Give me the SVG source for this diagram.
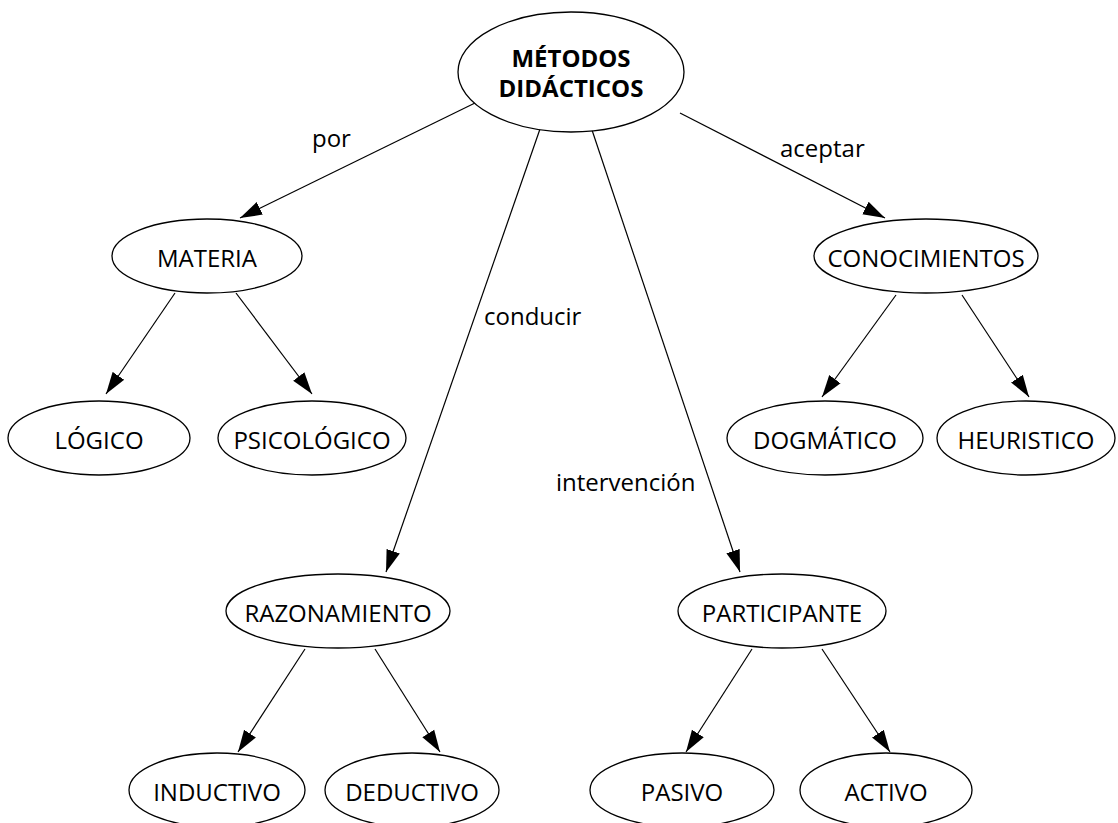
<svg xmlns="http://www.w3.org/2000/svg" width="1118" height="823" viewBox="0 0 1118 823">
<defs>
<marker id="arr" markerUnits="userSpaceOnUse" markerWidth="22" markerHeight="16" viewBox="0 0 22 16" refX="22" refY="8" orient="auto">
<path d="M0,1 L22,8 L0,15 Z" fill="#000"/>
</marker>
<style>
.n{fill:#fff;stroke:#000;stroke-width:1.3}
.t{font-family:"Open Sans","Noto Sans",sans-serif;font-size:24px;fill:#000;text-anchor:middle}
.b{font-weight:bold}
.l{font-family:"Open Sans","Noto Sans",sans-serif;font-size:24px;fill:#000}
.c{stroke:#000;stroke-width:1.2;fill:none;marker-end:url(#arr)}
</style>
</defs>
<rect width="1118" height="823" fill="#fff"/>
<g id="connectors">
<line class="c" x1="475" y1="103" x2="240" y2="218"/>
<line class="c" x1="540" y1="129" x2="386" y2="572"/>
<line class="c" x1="592" y1="130" x2="740" y2="572"/>
<line class="c" x1="680" y1="113" x2="885" y2="218"/>
<line class="c" x1="175" y1="293" x2="106" y2="394"/>
<line class="c" x1="236" y1="293" x2="312" y2="394"/>
<line class="c" x1="896" y1="295" x2="822" y2="397"/>
<line class="c" x1="962" y1="295" x2="1029" y2="397"/>
<line class="c" x1="305" y1="649" x2="238" y2="752"/>
<line class="c" x1="375" y1="649" x2="440" y2="752"/>
<line class="c" x1="752" y1="649" x2="686" y2="752"/>
<line class="c" x1="822" y1="649" x2="890" y2="752"/>
<text class="l" x="312" y="147">por</text>
<text class="l" x="780" y="157">aceptar</text>
<text class="l" x="484" y="325">conducir</text>
<text class="l" x="556" y="491">intervención</text>
</g>
<g id="metodos"><ellipse class="n" cx="571" cy="72" rx="113" ry="60"/><text class="t b" x="571" y="67">MÉTODOS</text><text class="t b" x="571" y="97">DIDÁCTICOS</text></g>
<g id="materia"><ellipse class="n" cx="207" cy="256" rx="95" ry="37"/><text class="t" x="207" y="267">MATERIA</text></g>
<g id="conocimientos"><ellipse class="n" cx="926" cy="256" rx="112" ry="37"/><text class="t" x="926" y="267">CONOCIMIENTOS</text></g>
<g id="logico"><ellipse class="n" cx="99" cy="438" rx="91" ry="37"/><text class="t" x="99" y="449">LÓGICO</text></g>
<g id="psicologico"><ellipse class="n" cx="312" cy="438" rx="94" ry="37"/><text class="t" x="312" y="449">PSICOLÓGICO</text></g>
<g id="dogmatico"><ellipse class="n" cx="825" cy="438" rx="98" ry="37"/><text class="t" x="825" y="449">DOGMÁTICO</text></g>
<g id="heuristico"><ellipse class="n" cx="1026" cy="438" rx="89" ry="37"/><text class="t" x="1026" y="449">HEURISTICO</text></g>
<g id="razonamiento"><ellipse class="n" cx="338" cy="611" rx="112" ry="37"/><text class="t" x="338" y="622">RAZONAMIENTO</text></g>
<g id="participante"><ellipse class="n" cx="782" cy="611" rx="104" ry="37"/><text class="t" x="782" y="622">PARTICIPANTE</text></g>
<g id="inductivo"><ellipse class="n" cx="217" cy="790" rx="88" ry="37"/><text class="t" x="217" y="801">INDUCTIVO</text></g>
<g id="deductivo"><ellipse class="n" cx="412" cy="790" rx="87" ry="37"/><text class="t" x="412" y="801">DEDUCTIVO</text></g>
<g id="pasivo"><ellipse class="n" cx="682" cy="790" rx="92" ry="37"/><text class="t" x="682" y="801">PASIVO</text></g>
<g id="activo"><ellipse class="n" cx="886" cy="790" rx="86" ry="37"/><text class="t" x="886" y="801">ACTIVO</text></g>
</svg>
